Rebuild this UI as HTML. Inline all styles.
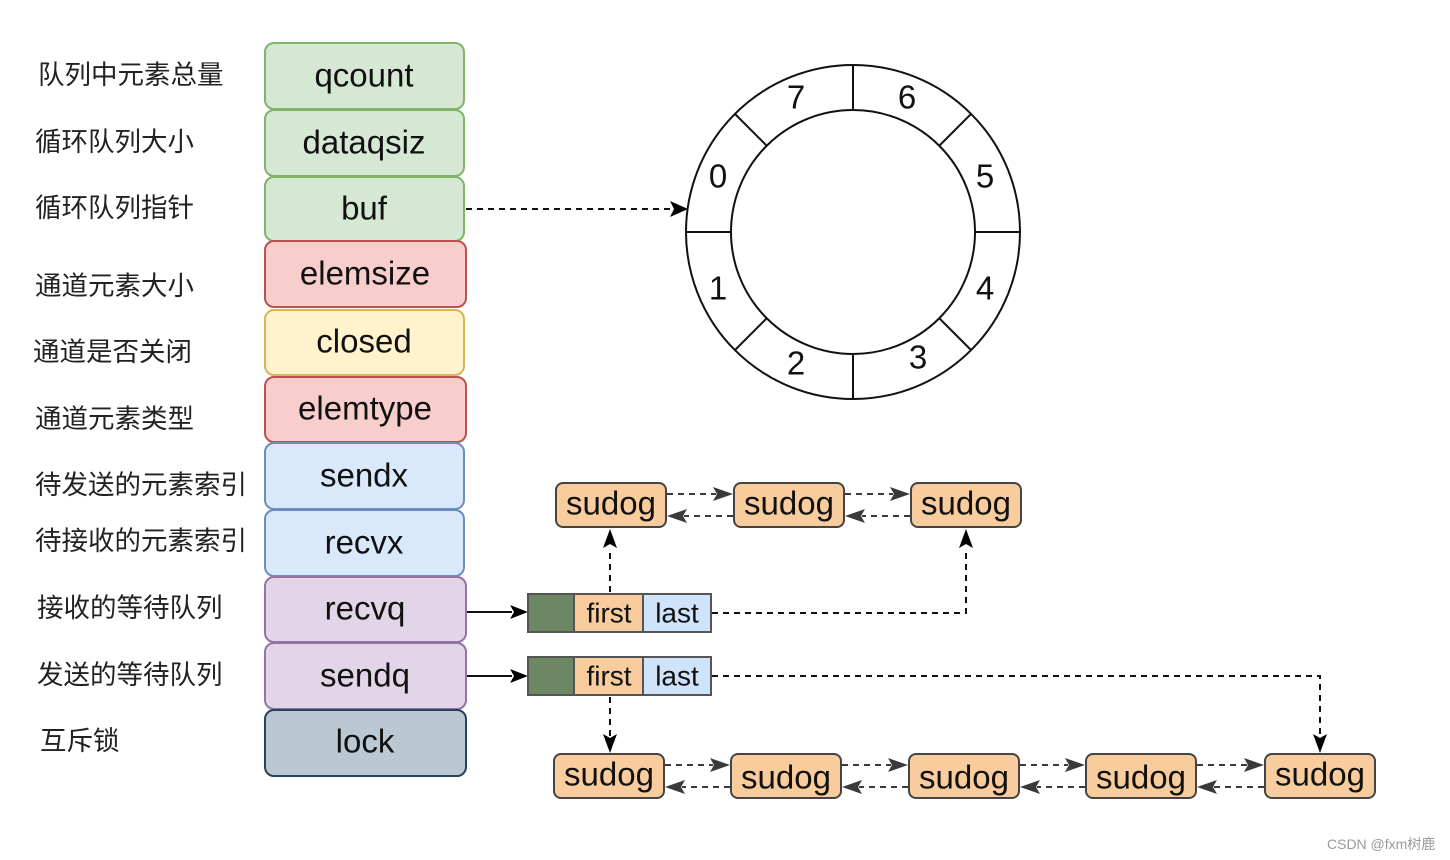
<!DOCTYPE html>
<html><head><meta charset="utf-8"><style>
html,body{margin:0;padding:0;background:#fff;}
svg{display:block;}
.zh{font-family:"Liberation Sans","Noto Sans CJK SC",sans-serif;font-size:26.5px;fill:#222;}
.f{font-family:"Liberation Sans",sans-serif;fill:#111;}
</style></head><body>
<svg width="1450" height="860" viewBox="0 0 1450 860" xmlns="http://www.w3.org/2000/svg">
<g class="zh" dominant-baseline="central">
<text x="38" y="75">队列中元素总量</text>
<text x="35" y="142">循环队列大小</text>
<text x="35" y="208">循环队列指针</text>
<text x="35" y="286">通道元素大小</text>
<text x="33" y="352">通道是否关闭</text>
<text x="35" y="419">通道元素类型</text>
<text x="35" y="485">待发送的元素索引</text>
<text x="35" y="541">待接收的元素索引</text>
<text x="37" y="608">接收的等待队列</text>
<text x="37" y="675">发送的等待队列</text>
<text x="40" y="741">互斥锁</text>
</g>
<g stroke-width="2">
<rect x="265" y="43" width="199" height="66" rx="9" fill="#d5e8d4" stroke="#82b366"/>
<rect x="265" y="110" width="199" height="66" rx="9" fill="#d5e8d4" stroke="#82b366"/>
<rect x="265" y="177" width="199" height="64" rx="9" fill="#d5e8d4" stroke="#82b366"/>
<rect x="265" y="241" width="201" height="66" rx="9" fill="#f8cecc" stroke="#b85450"/>
<rect x="265" y="310" width="199" height="65" rx="9" fill="#fff2cc" stroke="#d6b656"/>
<rect x="265" y="377" width="201" height="65" rx="9" fill="#f8cecc" stroke="#b85450"/>
<rect x="265" y="443" width="199" height="66" rx="9" fill="#dae8fc" stroke="#6c8ebf"/>
<rect x="265" y="510" width="199" height="66" rx="9" fill="#dae8fc" stroke="#6c8ebf"/>
<rect x="265" y="577" width="201" height="65" rx="9" fill="#e1d5e7" stroke="#9673a6"/>
<rect x="265" y="643" width="201" height="66" rx="9" fill="#e1d5e7" stroke="#9673a6"/>
<rect x="265" y="710" width="201" height="66" rx="9" fill="#bac8d3" stroke="#23445d"/>
</g>
<g class="f" font-size="33" text-anchor="middle" dominant-baseline="central">
<text x="364" y="75">qcount</text>
<text x="364" y="142">dataqsiz</text>
<text x="364" y="208">buf</text>
<text x="365" y="273">elemsize</text>
<text x="364" y="341">closed</text>
<text x="365" y="408">elemtype</text>
<text x="364" y="475">sendx</text>
<text x="364" y="542">recvx</text>
<text x="365" y="608">recvq</text>
<text x="365" y="675">sendq</text>
<text x="365" y="741">lock</text>
</g>
<g fill="none" stroke="#111" stroke-width="2">
<circle cx="853" cy="232" r="167"/>
<circle cx="853" cy="232" r="122"/>
<line x1="853" y1="65" x2="853" y2="110"/>
<line x1="853" y1="354" x2="853" y2="399"/>
<line x1="686" y1="232" x2="731" y2="232"/>
<line x1="975" y1="232" x2="1020" y2="232"/>
<line x1="735" y1="114" x2="767" y2="146"/>
<line x1="971" y1="114" x2="939" y2="146"/>
<line x1="735" y1="350" x2="767" y2="318"/>
<line x1="971" y1="350" x2="939" y2="318"/>
</g>
<g class="f" font-size="33" text-anchor="middle" dominant-baseline="central">
<text x="796" y="97">7</text><text x="907" y="97">6</text>
<text x="718" y="176">0</text><text x="985" y="176">5</text>
<text x="718" y="288">1</text><text x="985" y="288">4</text>
<text x="796" y="363">2</text><text x="918" y="357">3</text>
</g>
<!-- connectors -->
<g fill="none" stroke="#111" stroke-width="2" stroke-dasharray="6,5">
<path d="M466 209 L674 209"/>
<path d="M610 592 L610 548"/>
<path d="M712 613 L966 613 L966 548"/>
<path d="M610 697 L610 738"/>
<path d="M712 676 L1320 676 L1320 738"/>
</g>
<g fill="none" stroke="#111" stroke-width="2">
<path d="M467 612 L512 612"/>
<path d="M467 676 L512 676"/>
</g>
<g fill="#000">
<polygon points="688,209 670,201 674,209 670,217"/>
<polygon points="528,612 510,605 514,612 510,619"/>
<polygon points="528,676 510,669 514,676 510,683"/>
<polygon points="610,529 603,548 610,544 617,548"/>
<polygon points="966,529 959,548 966,544 973,548"/>
<polygon points="610,753 603,734 610,738 617,734"/>
<polygon points="1320,753 1313,734 1320,738 1327,734"/>
</g>
<g stroke="#555" stroke-width="2">
<rect x="528" y="594" width="46" height="38" fill="#6d8764"/>
<rect x="574" y="594" width="69" height="38" fill="#f8cc9c"/>
<rect x="643" y="594" width="68" height="38" fill="#cfe3fb"/>
<rect x="528" y="657" width="46" height="38" fill="#6d8764"/>
<rect x="574" y="657" width="69" height="38" fill="#f8cc9c"/>
<rect x="643" y="657" width="68" height="38" fill="#cfe3fb"/>
</g>
<g class="f" font-size="28" text-anchor="middle" dominant-baseline="central">
<text x="609" y="613">first</text><text x="677" y="613">last</text>
<text x="609" y="676">first</text><text x="677" y="676">last</text>
</g>
<g stroke="#444" stroke-width="2" fill="#f8cc9c">
<rect x="556" y="483" width="110" height="44" rx="7"/>
<rect x="734" y="483" width="110" height="44" rx="7"/>
<rect x="911" y="483" width="110" height="44" rx="7"/>
<rect x="554" y="754" width="110" height="44" rx="7"/>
<rect x="731" y="754" width="110" height="44" rx="7"/>
<rect x="909" y="754" width="110" height="44" rx="7"/>
<rect x="1086" y="754" width="110" height="44" rx="7"/>
<rect x="1265" y="754" width="110" height="44" rx="7"/>
</g>
<g class="f" font-size="33" text-anchor="middle" dominant-baseline="central">
<text x="611" y="503">sudog</text><text x="789" y="503">sudog</text><text x="966" y="503">sudog</text>
<text x="609" y="774">sudog</text><text x="786" y="777">sudog</text><text x="964" y="777">sudog</text><text x="1141" y="777">sudog</text><text x="1320" y="774">sudog</text>
</g>
<g fill="none" stroke="#3a3a3a" stroke-width="2" stroke-dasharray="6,5">
<path d="M667 494 L716 494"/><path d="M733 516 L684 516"/>
<path d="M845 494 L893 494"/><path d="M910 516 L862 516"/>
<path d="M665 765 L713 765"/><path d="M730 787 L682 787"/>
<path d="M842 765 L891 765"/><path d="M908 787 L859 787"/>
<path d="M1020 765 L1068 765"/><path d="M1085 787 L1037 787"/>
<path d="M1197 765 L1247 765"/><path d="M1264 787 L1214 787"/>
</g>
<g fill="#3a3a3a">
<polygon points="733,494 713,487 717,494 713,501"/>
<polygon points="667,516 687,509 683,516 687,523"/>
<polygon points="910,494 890,487 894,494 890,501"/>
<polygon points="845,516 865,509 861,516 865,523"/>
<polygon points="730,765 710,758 714,765 710,772"/>
<polygon points="665,787 685,780 681,787 685,794"/>
<polygon points="908,765 888,758 892,765 888,772"/>
<polygon points="842,787 862,780 858,787 862,794"/>
<polygon points="1085,765 1065,758 1069,765 1065,772"/>
<polygon points="1020,787 1040,780 1036,787 1040,794"/>
<polygon points="1264,765 1244,758 1248,765 1244,772"/>
<polygon points="1197,787 1217,780 1213,787 1217,794"/>
</g>
<text x="1327" y="849" font-family="Liberation Sans,Noto Sans CJK SC,sans-serif" font-size="14" fill="#999">CSDN @fxm树鹿</text>
</svg>
</body></html>
